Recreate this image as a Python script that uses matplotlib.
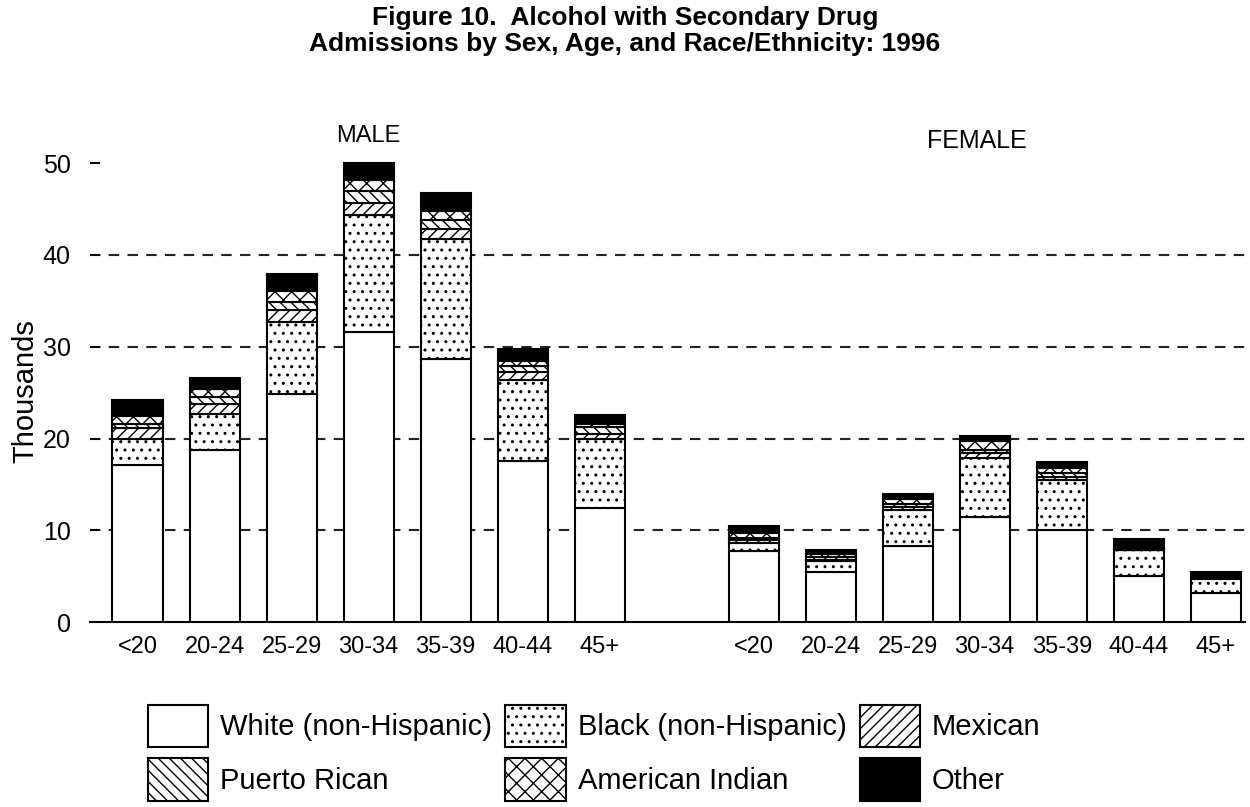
import matplotlib
matplotlib.use('Agg')
import matplotlib.pyplot as plt
import numpy as np

plt.rcParams['font.family'] = ['Liberation Sans', 'DejaVu Sans']
plt.rcParams['hatch.linewidth'] = 1.0

# data, thousands of admissions
ages = ['<20', '20-24', '25-29', '30-34', '35-39', '40-44', '45+']
races = ['White (non-Hispanic)', 'Black (non-Hispanic)', 'Mexican',
         'Puerto Rican', 'American Indian', 'Other']

male_white = [17.1, 18.7, 24.9, 31.6, 28.7, 17.6, 12.4]
male_black = [2.8, 4.0, 7.8, 12.8, 13.0, 8.8, 7.6]
male_mexican = [1.2, 1.1, 1.35, 1.3, 1.1, 0.9, 0.5]
male_prican = [0.45, 0.75, 0.85, 1.3, 1.0, 0.6, 0.8]
male_amind = [0.95, 0.8, 1.2, 1.2, 1.0, 0.6, 0.3]
male_other = [1.7, 1.25, 1.8, 1.8, 1.9, 1.2, 1.0]

female_white = [7.7, 5.4, 8.3, 11.5, 10.0, 5.0, 3.2]
female_black = [0.9, 1.2, 3.9, 6.35, 5.5, 2.8, 1.5]
female_mexican = [0.3, 0.2, 0.35, 0.55, 0.3, 0.05, 0.05]
female_prican = [0.3, 0.3, 0.3, 0.4, 0.45, 0.05, 0.05]
female_amind = [0.5, 0.3, 0.55, 0.95, 0.55, 0.1, 0.05]
female_other = [0.8, 0.4, 0.5, 0.55, 0.6, 1.1, 0.55]

hatches = [None, '..', '///', '\\\\\\', 'xx', None]
faces = ['white', 'white', 'white', 'white', 'white', 'black']

male = [male_white, male_black, male_mexican, male_prican, male_amind, male_other]
female = [female_white, female_black, female_mexican, female_prican, female_amind, female_other]

fig = plt.figure(figsize=(12.5, 8.07), dpi=100)
ax = fig.add_axes([0.072, 0.2292, 0.924, 0.622])

x_m = np.arange(7)
x_f = np.arange(7) + 8
w = 0.65

for xs, groups in [(x_m, male), (x_f, female)]:
    bottom = np.zeros(7)
    for i, vals in enumerate(groups):
        ax.bar(xs, vals, w, bottom=bottom, color=faces[i], edgecolor='black',
               hatch=hatches[i], linewidth=1.5, zorder=3,
               label=races[i] if xs is x_m else None)
        bottom += np.array(vals)

# dashed reference lines
for yv in [10, 20, 30, 40]:
    ax.axhline(yv, color='#222222', lw=1.5, ls=(0, (5, 4)), zorder=1)

ax.set_xlim(-0.617, 14.38)
ax.set_ylim(0, 54.7)
ax.set_yticks([0, 10, 20, 30, 40, 50])
ax.set_xticks(list(x_m) + list(x_f))
ax.set_xticklabels(ages + ages)
ax.tick_params(axis='y', direction='in', length=7, width=1.4, labelsize=18, pad=14)
ax.tick_params(axis='x', length=0, labelsize=17, pad=10)
for s in ['top', 'right', 'left']:
    ax.spines[s].set_visible(False)
ax.spines['bottom'].set_linewidth(1.5)
ax.set_ylabel('Thousands', fontsize=21)
ax.yaxis.set_label_coords(-0.044, 0.46)

ax.text(3, 53.0, 'MALE', ha='center', va='center', fontsize=17)
ax.text(10.9, 52.4, 'FEMALE', ha='center', va='center', fontsize=18)

fig.suptitle('Figure 10.  Alcohol with Secondary Drug\n'
             'Admissions by Sex, Age, and Race/Ethnicity: 1996',
             fontsize=19, fontweight='bold', y=0.992, linespacing=1.1)

handles, labels = ax.get_legend_handles_labels()
order = [0, 3, 1, 4, 2, 5]
fig.legend([handles[i] for i in order], [labels[i] for i in order],
           ncol=3, loc='upper left', bbox_to_anchor=(0.1184, 0.1264),
           frameon=False, fontsize=21, handlelength=2.07, handleheight=1.85,
           handletextpad=0.41, columnspacing=0.45, labelspacing=0.38,
           borderpad=0, borderaxespad=0)

fig.savefig('out.png', dpi=100)
